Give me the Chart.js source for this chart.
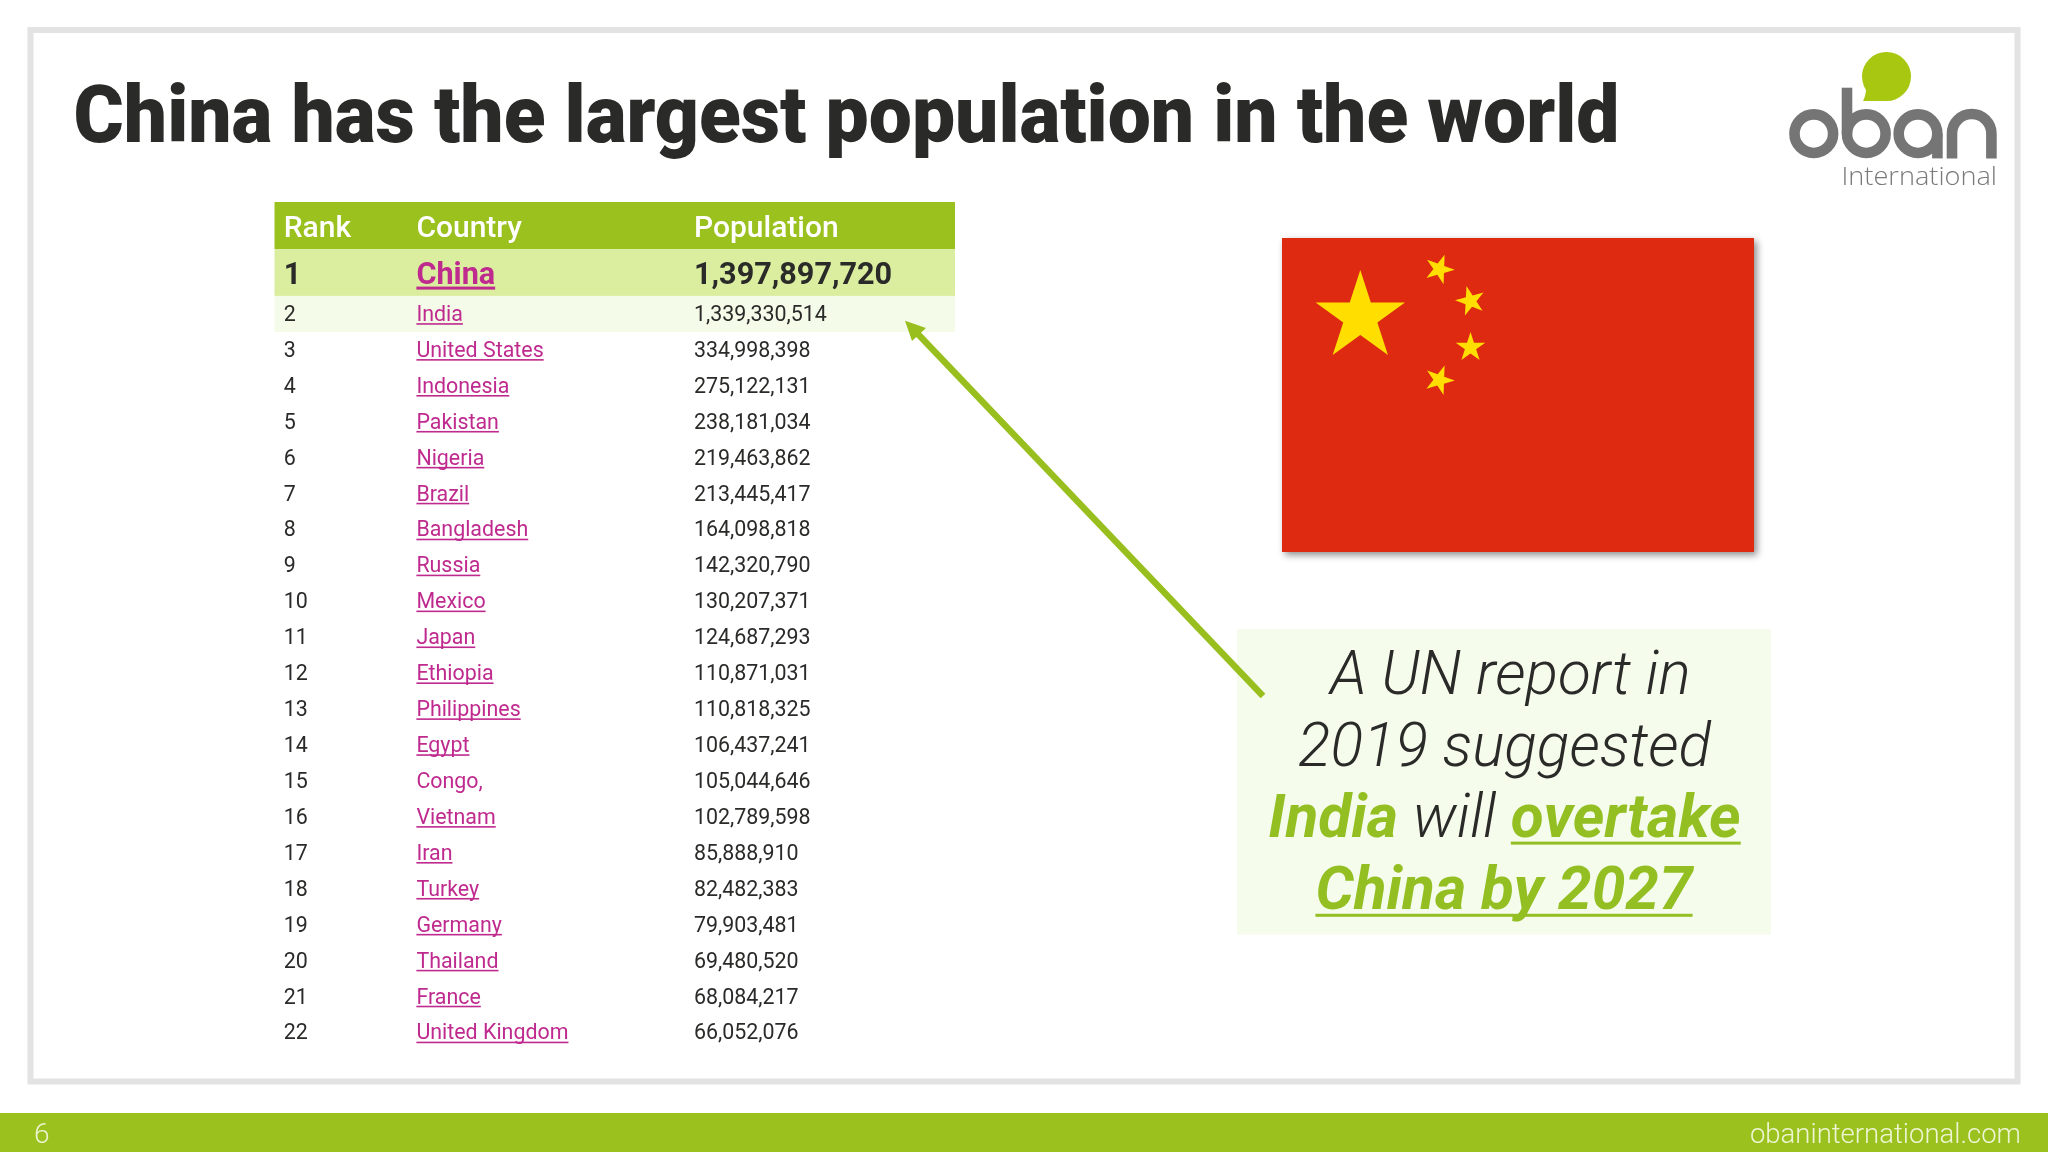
<!DOCTYPE html>
<html>
<head>
<meta charset="utf-8">
<style>html,body{margin:0;padding:0;background:#fff}canvas{display:block}</style>
<script src="https://cdn.jsdelivr.net/npm/chart.js@4/dist/chart.umd.js"></script>
</head>
<body>
<canvas id="c" width="2048" height="1152" style="width:2048px;height:1152px"></canvas>
<script>
const titleText = 'China has the largest population in the world';
const columnHeaders = ['Rank', 'Country', 'Population'];
const ranks = [1,2,3,4,5,6,7,8,9,10,11,12,13,14,15,16,17,18,19,20,21,22];
const countries = ['China','India','United States','Indonesia','Pakistan','Nigeria','Brazil','Bangladesh','Russia','Mexico','Japan','Ethiopia','Philippines','Egypt','Congo,','Vietnam','Iran','Turkey','Germany','Thailand','France','United Kingdom'];
const populations = [1397897720,1339330514,334998398,275122131,238181034,219463862,213445417,164098818,142320790,130207371,124687293,110871031,110818325,106437241,105044646,102789598,85888910,82482383,79903481,69480520,68084217,66052076];
const notLinked = ['Congo,'];
const footerPage = '6';
const footerSite = 'obaninternational.com';
const calloutLines = [
  [['A UN report in', 0, 0]],
  [['2019 suggested', 0, 0]],
  [['India', 1, 0], [' will ', 0, 0], ['overtake', 1, 1]],
  [['China by 2027', 1, 1]]
];

const DARK = '#2a2a29', MAGENTA = '#bf2a8e', GREEN = '#9bc11e';
const F = 'Roboto, sans-serif';

function text(ctx, s, x, y, font, color, align) {
  ctx.font = font; ctx.fillStyle = color; ctx.textAlign = align || 'left'; ctx.textBaseline = 'alphabetic';
  ctx.fillText(s, x, y);
}
function fitText(ctx, s, x, y, width, font, color) {
  ctx.save();
  ctx.font = font;
  const sx = width / ctx.measureText(s).width;
  ctx.translate(x, y); ctx.scale(sx, 1);
  text(ctx, s, 0, 0, font, color);
  ctx.restore();
}
function star(ctx, cx, cy, R, rotDeg) {
  const r = R * 0.382;
  ctx.beginPath();
  for (let i = 0; i < 10; i++) {
    const a = (rotDeg + i * 36 - 90) * Math.PI / 180, q = i % 2 ? r : R;
    const px = cx + q * Math.cos(a), py = cy + q * Math.sin(a);
    i ? ctx.lineTo(px, py) : ctx.moveTo(px, py);
  }
  ctx.closePath(); ctx.fill();
}
function drawLogo(ctx) {
  ctx.save();
  ctx.fillStyle = '#a7c710';
  ctx.beginPath();
  ctx.arc(1886.5, 76.5, 24.5, 0, Math.PI * 2);
  ctx.fill();
  ctx.beginPath();
  ctx.moveTo(1863, 101); ctx.lineTo(1888, 101); ctx.lineTo(1866, 70);
  ctx.quadraticCurveTo(1868, 92, 1863, 101); ctx.closePath(); ctx.fill();
  ctx.strokeStyle = '#757575'; ctx.lineWidth = 10.6; ctx.lineCap = 'butt';
  const cy = 133.7, r = 19.3, base = 158.4;
  ctx.beginPath(); ctx.arc(1813.8, cy, r, 0, Math.PI * 2); ctx.stroke();
  ctx.beginPath(); ctx.arc(1866.3, cy, r, 0, Math.PI * 2); ctx.stroke();
  ctx.beginPath(); ctx.moveTo(1847, 87.7); ctx.lineTo(1847, cy); ctx.stroke();
  ctx.beginPath(); ctx.arc(1918, cy, r, 0, Math.PI * 2); ctx.stroke();
  ctx.beginPath(); ctx.moveTo(1937.4, cy); ctx.lineTo(1937.4, base); ctx.stroke();
  ctx.beginPath(); ctx.moveTo(1952, base); ctx.lineTo(1952, cy);
  ctx.arc(1971.7, cy, 19.7, Math.PI, 0); ctx.lineTo(1991.4, base); ctx.stroke();
  ctx.restore();
  fitText(ctx, 'International', 1841.5, 185, 155.5, '300 25.5px "Open Sans", ' + F, '#7a7a7a');
}

const tablePlugin = {
  id: 'slide',
  beforeDatasetsDraw(chart) {
    const { ctx, scales } = chart;
    const y = scales.y, x = scales.x;
    const band = (a, b, color) => {
      ctx.fillStyle = color;
      ctx.fillRect(x.left, y.getPixelForValue(a), x.right - x.left, y.getPixelForValue(b) - y.getPixelForValue(a));
    };
    ctx.save();
    ctx.fillStyle = '#fff'; ctx.fillRect(0, 0, 2048, 1152);
    ctx.strokeStyle = '#e3e3e4'; ctx.lineWidth = 6;
    ctx.strokeRect(30.5, 30, 1987, 1051.5);
    band(-1.105, 0.205, '#9bc11e');
    band(0.205, 1.51, '#dbee9f');
    band(1.51, 2.515, '#f5fbe9');
    ctx.restore();
  },
  afterDatasetsDraw(chart) {
    const { ctx, scales } = chart;
    const y = scales.y, x = scales.x;
    ctx.save();
    // title
    fitText(ctx, titleText, 73.5, 142, 1546, '900 80px ' + F, DARK);
    // table header
    const colX = [x.getPixelForValue(0.0135), x.getPixelForValue(0.2085), x.getPixelForValue(0.6165)];
    columnHeaders.forEach((h, i) => text(ctx, h, colX[i], y.getPixelForValue(-0.45) + 11, '500 30px ' + F, '#fff'));
    // table rows
    ranks.forEach((rank, i) => {
      const first = rank === 1;
      const size = first ? 30.6 : 21.4;
      const weight = first ? 700 : 400;
      const base = y.getPixelForValue(first ? 0.86 : rank) + (first ? 11 : 7.4);
      const font = weight + ' ' + size + 'px ' + F;
      text(ctx, String(rank), colX[0], base, font, DARK);
      text(ctx, countries[i], colX[1], base, font, MAGENTA);
      if (!notLinked.includes(countries[i])) {
        const w = ctx.measureText(countries[i]).width;
        ctx.fillStyle = MAGENTA;
        ctx.fillRect(colX[1], base + (first ? 3 : 2.2), w, first ? 3 : 1.6);
      }
      text(ctx, populations[i].toLocaleString('en-US'), colX[2], base, font, DARK);
    });
    // flag
    ctx.save();
    ctx.shadowColor = 'rgba(0,0,0,0.45)'; ctx.shadowBlur = 7; ctx.shadowOffsetX = 3; ctx.shadowOffsetY = 3;
    ctx.fillStyle = '#de2a10'; ctx.fillRect(1282, 238, 472, 314);
    ctx.restore();
    ctx.fillStyle = '#ffde00';
    star(ctx, 1360.3, 317, 47, 0);
    star(ctx, 1439.3, 269.3, 15.5, 20);
    star(ctx, 1470.5, 301, 15.5, 57);
    star(ctx, 1470.5, 347.5, 15.5, 0);
    star(ctx, 1439.3, 380, 15.5, 20);
    // logo
    drawLogo(ctx);
    // callout box
    ctx.fillStyle = '#f6fcec'; ctx.fillRect(1237, 629, 534, 305.5);
    const calloutBase = [693.6, 765.5, 836.6, 908.8];
    const calloutCentre = [1510.5, 1504.5, 1504.5, 1504];
    calloutLines.forEach((runs, li) => {
      const fontOf = r => (r[1] ? 'italic 700 60.4px ' : 'italic 300 60.4px ') + F;
      let total = 0;
      runs.forEach(r => { ctx.font = fontOf(r); total += ctx.measureText(r[0]).width; });
      let px = calloutCentre[li] - total / 2;
      runs.forEach(r => {
        const col = r[1] ? '#93bf23' : DARK;
        text(ctx, r[0], px, calloutBase[li], fontOf(r), col);
        const w = ctx.measureText(r[0]).width;
        if (r[2]) { ctx.fillStyle = col; ctx.fillRect(px, calloutBase[li] + 5, w, 3); }
        px += w;
      });
    });
    // arrow
    ctx.strokeStyle = '#99bf1e'; ctx.lineWidth = 6.5; ctx.lineCap = 'butt';
    ctx.beginPath(); ctx.moveTo(1263, 696); ctx.lineTo(916, 332); ctx.stroke();
    ctx.fillStyle = '#99bf1e';
    ctx.beginPath(); ctx.moveTo(905, 320.7); ctx.lineTo(926, 328); ctx.lineTo(912, 341); ctx.closePath(); ctx.fill();
    // footer
    ctx.fillStyle = '#9bc11e'; ctx.fillRect(0, 1113, 2048, 39);
    text(ctx, footerPage, 34, 1143, '300 28px ' + F, '#eef5d3');
    text(ctx, footerSite, 2021, 1143, '300 27.5px ' + F, '#eef5d3', 'right');
    ctx.restore();
  }
};

new Chart(document.getElementById('c'), {
  type: 'scatter',
  data: {
    datasets: [{
      label: 'Population',
      data: ranks.map((r, i) => ({ x: populations[i], y: r })),
      xAxisID: 'pop',
      pointRadius: 0,
      showLine: false
    }]
  },
  options: {
    responsive: false,
    animation: false,
    devicePixelRatio: 1,
    layout: { padding: { left: 274.5, right: 1093, top: 202, bottom: 102 } },
    plugins: { legend: { display: false }, tooltip: { enabled: false }, title: { display: false } },
    scales: {
      x: { type: 'linear', min: 0, max: 1, display: false },
      pop: { type: 'linear', axis: 'x', min: 0, max: 1500000000, display: false },
      y: { type: 'linear', reverse: true, min: -1.105, max: 22.5, display: false }
    }
  },
  plugins: [tablePlugin]
});
</script>
</body>
</html>
